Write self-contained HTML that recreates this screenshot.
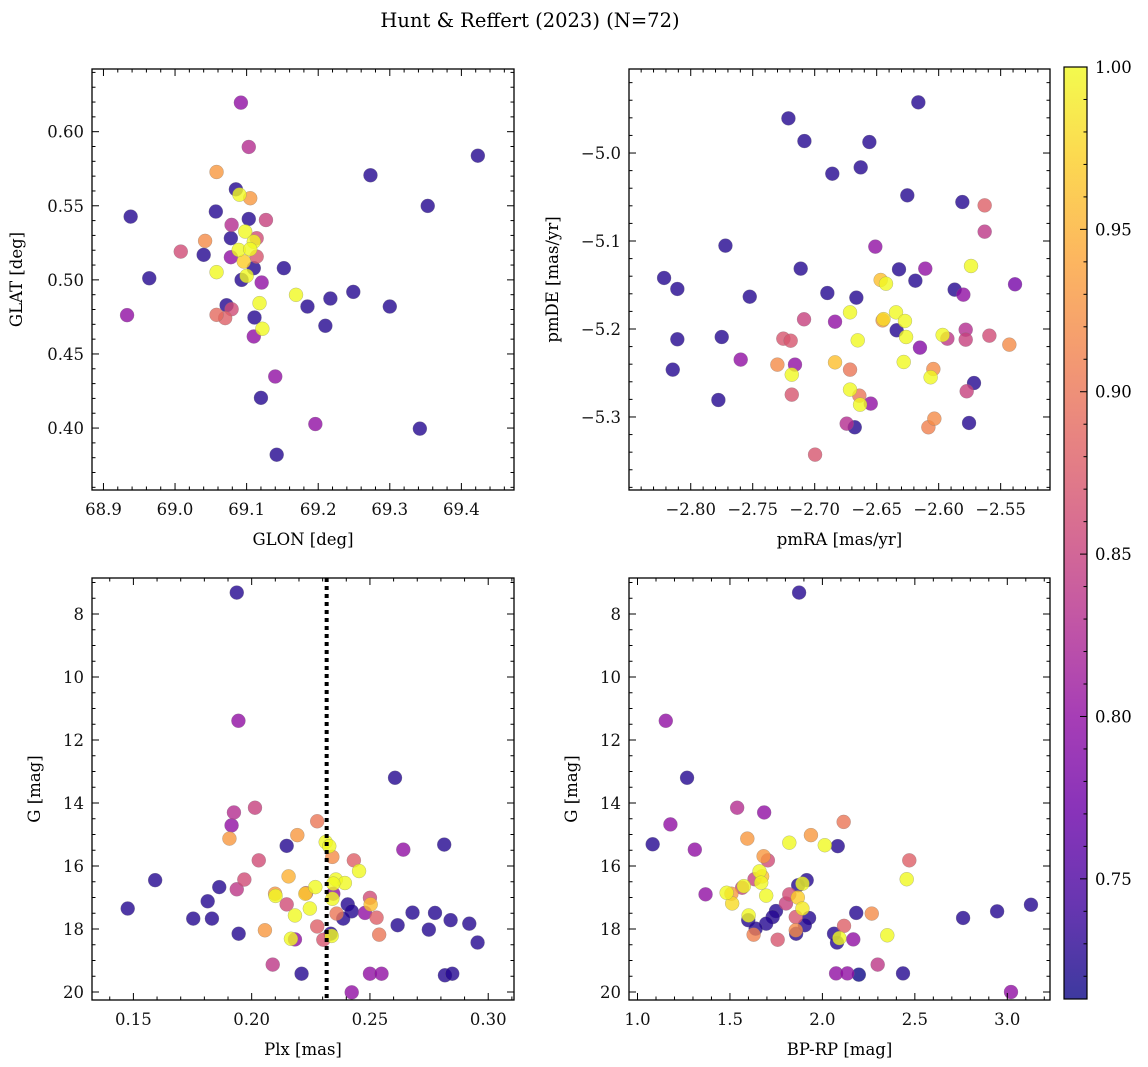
<!DOCTYPE html>
<html><head><meta charset="utf-8"><title>Hunt & Reffert (2023)</title>
<style>
html,body{margin:0;padding:0;background:#fff;}
svg{display:block;font-family:"DejaVu Serif","Liberation Serif",serif;}
</style></head>
<body>
<svg id="fig" width="1148" height="1067" viewBox="0 0 1148 1067" xmlns="http://www.w3.org/2000/svg">
<text x="530" y="27" font-size="19.5" text-anchor="middle">Hunt &amp; Reffert (2023) (N=72)</text>
</svg>
<script>
// ---- Panel 1: GLON / GLAT ----
const p1Lon=[69.092,69.103,69.058,69.085,69.090,69.105,68.938,69.057,69.103,69.127,69.079,69.078,69.042,69.098,69.114,69.110,69.008,69.040,69.089,69.105,69.078,69.114,69.096,68.964,69.058,69.110,69.152,69.093,69.100,69.121,69.169,69.185,69.217,69.249,69.300,68.933,69.072,69.079,69.058,69.070,69.118,69.111,69.122,69.110,69.210,69.140,69.120,69.196,69.142,69.342,69.353,69.273,69.423];
const p1Lat=[0.6196,0.5897,0.5728,0.5611,0.5575,0.5551,0.5427,0.5461,0.5411,0.5404,0.5371,0.5281,0.5263,0.5326,0.5281,0.5258,0.5191,0.5169,0.5202,0.5207,0.5153,0.5157,0.5124,0.5011,0.5052,0.5079,0.5079,0.5000,0.5027,0.4982,0.4899,0.4820,0.4874,0.4919,0.4820,0.4762,0.4829,0.4802,0.4764,0.4742,0.4843,0.4746,0.4670,0.4618,0.4690,0.4348,0.4204,0.4027,0.3820,0.3996,0.5499,0.5706,0.5838];
const p1Prob=[0.80,0.83,0.93,0.725,1.0,0.93,0.725,0.725,0.725,0.85,0.83,0.725,0.92,1.0,0.86,1.0,0.86,0.725,1.0,1.0,0.80,0.87,0.97,0.725,1.0,0.725,0.725,0.725,1.0,0.80,1.0,0.725,0.725,0.725,0.725,0.80,0.725,0.86,0.89,0.88,1.0,0.725,1.0,0.80,0.725,0.80,0.725,0.80,0.725,0.725,0.725,0.725,0.725];
// ---- Panel 2: pmRA / pmDE ----
const p2Pmra=[-2.6164,-2.7212,-2.7083,-2.6559,-2.6858,-2.6629,-2.6253,-2.5809,-2.5629,-2.5629,-2.7720,-2.6511,-2.5739,-2.7113,-2.6320,-2.6108,-2.8215,-2.8108,-2.7524,-2.6898,-2.6664,-2.6468,-2.6425,-2.6188,-2.5871,-2.5801,-2.5384,-2.6715,-2.7086,-2.6836,-2.6344,-2.6452,-2.6445,-2.6272,-2.6339,-2.6263,-2.6653,-2.6151,-2.5968,-2.5930,-2.5782,-2.5782,-2.5591,-2.5430,-2.8108,-2.7750,-2.7253,-2.7194,-2.7597,-2.8145,-2.7301,-2.7159,-2.7185,-2.6836,-2.6715,-2.6282,-2.6043,-2.6065,-2.5715,-2.5774,-2.6715,-2.6640,-2.6634,-2.6548,-2.7185,-2.7777,-2.6742,-2.6677,-2.6035,-2.6083,-2.5755,-2.6997];
const p2Pmde=[-4.9424,-4.9606,-4.9864,-4.9875,-5.0235,-5.0163,-5.0481,-5.0557,-5.0595,-5.0894,-5.1053,-5.1064,-5.1284,-5.1314,-5.1322,-5.1314,-5.1420,-5.1545,-5.1633,-5.1591,-5.1644,-5.1443,-5.1485,-5.1451,-5.1553,-5.1610,-5.1492,-5.1811,-5.1890,-5.1917,-5.1811,-5.1902,-5.1888,-5.1909,-5.2015,-5.2091,-5.2129,-5.2212,-5.2068,-5.2110,-5.2008,-5.2121,-5.2076,-5.2178,-5.2117,-5.2091,-5.2110,-5.2133,-5.2348,-5.2462,-5.2405,-5.2405,-5.2519,-5.2379,-5.2462,-5.2375,-5.2455,-5.2549,-5.2614,-5.2708,-5.2689,-5.2758,-5.2860,-5.2848,-5.2746,-5.2807,-5.3076,-5.3117,-5.3019,-5.3117,-5.3068,-5.3428];
const p2Prob=[0.725,0.725,0.725,0.725,0.725,0.725,0.725,0.725,0.88,0.84,0.725,0.80,1.0,0.725,0.725,0.80,0.725,0.725,0.725,0.725,0.725,0.96,1.0,0.725,0.725,0.80,0.78,1.0,0.85,0.80,1.0,0.93,0.98,1.0,0.725,1.0,1.0,0.79,1.0,0.84,0.83,0.85,0.86,0.92,0.725,0.725,0.87,0.87,0.80,0.725,0.92,0.80,1.0,0.96,0.90,1.0,0.92,1.0,0.725,0.85,1.0,0.90,1.0,0.80,0.87,0.725,0.83,0.725,0.92,0.91,0.725,0.87];
// ---- Panel 3: Plx / G ----
const p3Plx=[0.1937,0.1944,0.2606,0.1925,0.1915,0.2014,0.1906,0.2277,0.2193,0.2148,0.2313,0.2328,0.2341,0.2641,0.2814,0.2030,0.2432,0.2454,0.1592,0.2156,0.1969,0.1863,0.1937,0.2356,0.2394,0.2345,0.2269,0.2099,0.2101,0.2230,0.2227,0.2341,0.2345,0.2500,0.2503,0.1814,0.2148,0.2246,0.2183,0.2406,0.2423,0.2479,0.2359,0.2387,0.2528,0.1476,0.1753,0.1832,0.2680,0.2775,0.2841,0.2920,0.2617,0.2749,0.1945,0.2056,0.2277,0.2539,0.2955,0.2166,0.2183,0.2303,0.2334,0.2338,0.2089,0.2211,0.2500,0.2549,0.2817,0.2848,0.2423];
const p3G=[7.32,11.39,13.20,14.30,14.71,14.15,15.13,14.58,15.02,15.36,15.24,15.37,15.71,15.48,15.32,15.82,15.82,16.16,16.45,16.33,16.43,16.67,16.74,16.43,16.54,16.56,16.67,16.88,16.95,16.86,16.88,17.04,16.88,17.01,17.22,17.12,17.22,17.35,17.57,17.22,17.44,17.49,17.51,17.67,17.64,17.35,17.67,17.67,17.48,17.49,17.72,17.83,17.88,18.02,18.15,18.04,17.92,18.18,18.43,18.31,18.33,18.34,18.15,18.22,19.13,19.42,19.42,19.42,19.47,19.42,20.01];
const p3Prob=[0.725,0.80,0.725,0.83,0.80,0.85,0.93,0.90,0.93,0.725,1.0,1.0,0.92,0.80,0.725,0.86,0.88,1.0,0.725,0.95,0.86,0.725,0.84,1.0,1.0,1.0,1.0,0.93,1.0,0.88,0.97,1.0,0.80,0.86,0.96,0.725,0.86,1.0,1.0,0.725,0.725,0.80,0.90,0.725,0.88,0.725,0.725,0.725,0.725,0.725,0.725,0.725,0.725,0.725,0.725,0.93,0.88,0.90,0.725,1.0,0.80,0.87,0.725,1.0,0.84,0.725,0.80,0.80,0.725,0.725,0.80];
// ---- Panel 4: BP-RP / G ----
const p4Col=[1.874,1.153,1.268,1.539,1.685,1.178,2.115,1.082,1.310,1.594,1.821,1.938,2.013,2.083,1.682,1.705,2.470,1.660,1.674,1.633,1.669,2.456,1.915,1.869,1.892,1.566,1.575,1.368,1.482,1.508,1.696,1.821,1.867,1.803,1.512,1.892,1.749,1.731,1.601,1.599,1.696,1.639,1.628,1.856,1.928,1.905,1.856,1.858,1.758,2.183,2.267,2.117,2.063,2.079,2.092,2.167,2.351,2.299,2.074,2.135,2.197,2.436,2.761,2.945,3.128,3.020];
const p4G=[7.32,11.39,13.20,14.15,14.30,14.68,14.60,15.31,15.48,15.13,15.26,15.02,15.34,15.37,15.69,15.82,15.82,16.17,16.33,16.42,16.53,16.42,16.45,16.61,16.56,16.69,16.64,16.90,16.85,16.88,16.94,16.90,17.00,17.19,17.19,17.35,17.43,17.62,17.57,17.72,17.83,17.99,18.18,17.62,17.65,17.88,18.04,18.15,18.34,17.49,17.51,17.90,18.15,18.43,18.29,18.33,18.20,19.13,19.41,19.41,19.45,19.41,17.65,17.44,17.23,20.00];
const p4Prob=[0.725,0.80,0.725,0.83,0.80,0.80,0.90,0.725,0.80,0.93,1.0,0.93,1.0,0.725,0.93,0.86,0.88,1.0,0.96,0.85,1.0,1.0,0.725,0.725,1.0,0.85,1.0,0.80,1.0,0.93,1.0,0.86,0.97,0.85,0.98,0.99,0.725,0.725,1.0,0.725,0.725,0.725,0.91,0.87,0.725,0.725,0.92,0.725,0.87,0.725,0.92,0.88,0.725,0.725,1.0,0.80,1.0,0.84,0.80,0.80,0.70,0.725,0.725,0.725,0.725,0.80];
const plxLine=[0.2317];
const cbTicks=[0.75,0.80,0.85,0.90,0.95,1.00];

const NS='http://www.w3.org/2000/svg';
const svg=document.getElementById('fig');
const VMIN=0.713,VMAX=1.0;
const FS=16.5;
const stops=['#0d0887','#41049d','#6a00a8','#8f0da4','#b12a90','#cc4778','#e16462','#f2844b','#fca636','#fcce25','#f0f921'];
function hex(h){return [parseInt(h.substr(1,2),16),parseInt(h.substr(3,2),16),parseInt(h.substr(5,2),16)];}
function plasma(t){t=Math.max(0,Math.min(1,t));const f=t*10;const i=Math.min(9,Math.floor(f));const r=f-i;const a=hex(stops[i]),b=hex(stops[i+1]);
return 'rgb('+a.map((v,k)=>Math.round(v+(b[k]-v)*r)).join(',')+')';}
function cmap(v){return plasma((v-VMIN)/(VMAX-VMIN));}
function el(tag,attrs,parent){const e=document.createElementNS(NS,tag);for(const k in attrs)e.setAttribute(k,attrs[k]);(parent||svg).appendChild(e);return e;}
function fmt(v,d){const s=Math.abs(v).toFixed(d);return (v<-1e-9?'\u2212':'')+s;}

function panel(cfg){
  const g=el('g',{});
  
  
  const L=cfg.box[0],R=cfg.box[1],T=cfg.box[2],B=cfg.box[3];
  const sx=v=>L+(v-cfg.xr[0])/(cfg.xr[1]-cfg.xr[0])*(R-L);
  const sy=cfg.yinv? (v=>T+(v-cfg.yr[0])/(cfg.yr[1]-cfg.yr[0])*(B-T)) : (v=>B-(v-cfg.yr[0])/(cfg.yr[1]-cfg.yr[0])*(B-T));
  const cp='clip-'+cfg.name;
  const cl=el('clipPath',{id:cp},g);el('rect',{x:L,y:T,width:R-L,height:B-T},cl);
  const pts=el('g',{'clip-path':'url(#'+cp+')'},g);
  
  
  const idx=cfg.xs.map((_,i)=>i).sort((a,b)=>cfg.c[a]-cfg.c[b]);
  idx.forEach(i=>{
    const c=el('circle',{cx:sx(cfg.xs[i]),cy:sy(cfg.ys[i]),r:7,fill:cmap(cfg.c[i]),'fill-opacity':0.8,stroke:'#777','stroke-opacity':0.5,'stroke-width':0.5},pts);
    
    
  });
  if(cfg.vline){cfg.vline.forEach(v=>{const l=el('line',{x1:sx(v),x2:sx(v),y1:T,y2:B,stroke:'#000','stroke-width':4,'stroke-dasharray':'4 4'},g);
    
    });}
  const tk=el('g',{stroke:'#000','stroke-width':1},g);
  
  
  const eps=1e-9;
  for(let v=Math.ceil(cfg.xr[0]/cfg.xmin-eps)*cfg.xmin;v<=cfg.xr[1]+eps;v+=cfg.xmin){
    const isMaj=Math.abs(v/cfg.xmaj-Math.round(v/cfg.xmaj))<1e-4;const len=isMaj?7:3.5;const x=sx(v);
    el('line',{x1:x,x2:x,y1:B,y2:B-len},tk);el('line',{x1:x,x2:x,y1:T,y2:T+len},tk);
    if(isMaj){const t=el('text',{x:x,y:B+25,'font-size':FS,'text-anchor':'middle',stroke:'none',fill:'#111'},g);t.textContent=fmt(v,cfg.xd);
      }
  }
  const ylo=Math.min(cfg.yr[0],cfg.yr[1]),yhi=Math.max(cfg.yr[0],cfg.yr[1]);
  for(let v=Math.ceil(ylo/cfg.ymin-eps)*cfg.ymin;v<=yhi+eps;v+=cfg.ymin){
    const isMaj=Math.abs(v/cfg.ymaj-Math.round(v/cfg.ymaj))<1e-4;const len=isMaj?7:3.5;const y=sy(v);
    el('line',{x1:L,x2:L+len,y1:y,y2:y},tk);el('line',{x1:R,x2:R-len,y1:y,y2:y},tk);
    if(isMaj){const t=el('text',{x:L-8,y:y+6,'font-size':FS,'text-anchor':'end',stroke:'none',fill:'#111'},g);t.textContent=fmt(v,cfg.yd);
      }
  }
  const fr=el('rect',{x:L,y:T,width:R-L,height:B-T,fill:'none',stroke:'#000','stroke-width':1.3},g);
  
  const xt=el('text',{x:(L+R)/2,y:B+55,'font-size':FS,'text-anchor':'middle'},g);xt.textContent=cfg.xlabel;
  
  const yx=cfg.ylabX,yy=(T+B)/2;
  const yt=el('text',{x:yx,y:yy,'font-size':FS,'text-anchor':'middle',transform:'rotate(-90 '+yx+' '+yy+')'},g);yt.textContent=cfg.ylabel;
  
}

panel({name:'glon-glat-panel',box:[92,514,69,490],xr:[68.884,69.4735],yr:[0.3582,0.6423],xs:p1Lon,ys:p1Lat,c:p1Prob,xmaj:0.1,xmin:0.02,ymaj:0.05,ymin:0.01,xd:1,yd:2,xlabel:'GLON [deg]',ylabel:'GLAT [deg]',ylabX:22});
panel({name:'pm-panel',box:[629,1050,69,490],xr:[-2.8498,-2.5102],yr:[-5.383,-4.9045],xs:p2Pmra,ys:p2Pmde,c:p2Prob,xmaj:0.05,xmin:0.01,ymaj:0.1,ymin:0.02,xd:2,yd:1,xlabel:'pmRA [mas/yr]',ylabel:'pmDE [mas/yr]',ylabX:558});
panel({name:'plx-g-panel',box:[92,514,578,1000],xr:[0.1325,0.3109],yr:[6.857,20.254],yinv:true,xs:p3Plx,ys:p3G,c:p3Prob,xmaj:0.05,xmin:0.01,ymaj:2,ymin:0.5,xd:2,yd:0,xlabel:'Plx [mas]',ylabel:'G [mag]',ylabX:40,vline:plxLine});
panel({name:'cmd-panel',box:[629,1050,578,1000],xr:[0.954,3.231],yr:[6.857,20.254],yinv:true,xs:p4Col,ys:p4G,c:p4Prob,xmaj:0.5,xmin:0.1,ymaj:2,ymin:0.5,xd:1,yd:0,xlabel:'BP-RP [mag]',ylabel:'G [mag]',ylabX:577});

(function(){
  const cb=el('g',{});
  
  
  const L=1064,R=1087,T=67,B=999;
  const defs=el('defs',{},cb);
  const lg=el('linearGradient',{id:'cbgrad',x1:0,y1:1,x2:0,y2:0},defs);
  for(let i=0;i<=20;i++){el('stop',{offset:(i/20),'stop-color':plasma(i/20)},lg);}
  el('rect',{x:L,y:T,width:R-L,height:B-T,fill:'url(#cbgrad)','fill-opacity':0.8},cb);
  const sy=v=>B-(v-VMIN)/(VMAX-VMIN)*(B-T);
  for(let v=0.72;v<=1.0001;v+=0.01){const y=sy(v);const maj=Math.abs(v*20-Math.round(v*20))<1e-4;
    el('line',{x1:R,x2:R-(maj?7:3.5),y1:y,y2:y,stroke:'#000','stroke-width':1},cb);}
  cbTicks.forEach(v=>{const t=el('text',{x:R+8,y:sy(v)+6,'font-size':FS},cb);t.textContent=v.toFixed(2);
    });
  el('rect',{x:L,y:T,width:R-L,height:B-T,fill:'none',stroke:'#000','stroke-width':1.2},cb);
})();
</script>
</body></html>
